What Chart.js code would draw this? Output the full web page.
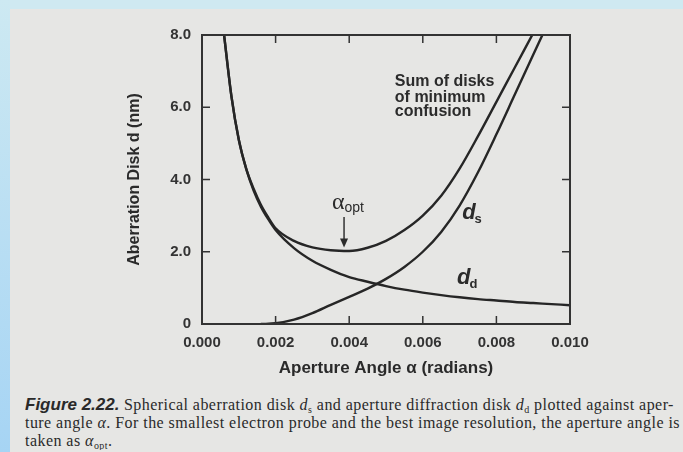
<!DOCTYPE html>
<html>
<head>
<meta charset="utf-8">
<script src="https://cdn.jsdelivr.net/npm/chart.js@4.4.0/dist/chart.umd.min.js"></script>
<style>
  body { margin: 0; width: 683px; height: 452px; overflow: hidden; background: #e6e6e4; position: relative; }
  #topStrip { position: absolute; left: 0; top: 0; width: 683px; height: 9px; background: #cfe9f1; }
  #leftStrip { position: absolute; left: 0; top: 0; width: 10px; height: 452px; background: linear-gradient(#cde9f2, #a6d4f4); }
  #chart { position: absolute; left: 0; top: 0; }
  #caption { position: absolute; left: 25px; top: 396px; width: 658px; overflow: hidden; white-space: nowrap;
             font-family: "Liberation Serif", serif; font-size: 16px; letter-spacing: 0.45px; line-height: 18px; color: #2a2a2a; }
  #caption div { height: 18px; }
  #caption b { font-family: "Liberation Sans", Arial, sans-serif; font-style: italic; font-size: 17px; letter-spacing: 0; }
  #caption sub { font-size: 10px; line-height: 0; vertical-align: -3px; }
</style>
</head>
<body>
<div id="topStrip"></div>
<div id="leftStrip"></div>
<canvas id="chart" width="683" height="390"></canvas>
<div id="caption">
  <div><b>Figure 2.22.</b> Spherical aberration disk <i>d</i><sub>s</sub> and aperture diffraction disk <i>d</i><sub>d</sub> plotted against aper-</div>
  <div>ture angle <i>α</i>. For the smallest electron probe and the best image resolution, the aperture angle is</div>
  <div>taken as <i>α</i><sub>opt</sub>.</div>
</div>
<script>
// values
var alphaD = [0.0006, 0.0008, 0.001, 0.0012, 0.0014, 0.0016, 0.0018, 0.002, 0.0025, 0.003, 0.0035, 0.004,
              0.0045, 0.005, 0.0055, 0.006, 0.0065, 0.007, 0.0075, 0.008, 0.0085, 0.009, 0.0095, 0.010];
var diffD  = [8.0, 6.3, 5.1, 4.3, 3.7, 3.25, 2.9, 2.6, 2.1, 1.75, 1.5, 1.3,
              1.17, 1.05, 0.95, 0.87, 0.8, 0.74, 0.69, 0.65, 0.61, 0.58, 0.55, 0.52];

var alphaS = [0.0016, 0.002, 0.0025, 0.003, 0.0035, 0.004, 0.0045, 0.005, 0.0055, 0.006,
              0.0065, 0.007, 0.0075, 0.008, 0.0085, 0.009, 0.0095];
var spherD = [0, 0.02, 0.12, 0.3, 0.53, 0.75, 0.98, 1.25, 1.58, 2.0,
              2.55, 3.28, 4.2, 5.25, 6.35, 7.45, 8.55];

var alphaSum = [0.0006, 0.0008, 0.001, 0.0012, 0.0014, 0.0016, 0.0018, 0.002, 0.0025, 0.003, 0.0035,
                0.004, 0.0045, 0.005, 0.0055, 0.006, 0.0065, 0.007, 0.0075, 0.008, 0.0085, 0.009];
var sumD     = [8.0, 6.3, 5.1, 4.3, 3.75, 3.3, 2.95, 2.65, 2.3, 2.12, 2.04,
                2.02, 2.11, 2.3, 2.6, 3.0, 3.55, 4.3, 5.2, 6.15, 7.1, 8.05];

var xTicks = [0.002, 0.004, 0.006, 0.008];
var yTicks = [2, 4, 6];

function pairs(xs, ys) {
  return xs.map(function(x, i) { return {x: x, y: ys[i]}; });
}

var ink = '#262626';

function curve(data) {
  return {
    data: data,
    borderColor: ink,
    borderWidth: 2.4,
    pointRadius: 0,
    fill: false,
    cubicInterpolationMode: 'monotone'
  };
}

// frame, inward ticks and the labels on the plot
var extras = {
  id: 'extras',
  afterDraw: function(chart) {
    var ctx = chart.ctx, a = chart.chartArea;
    var xs = chart.scales.x, ys = chart.scales.y;
    ctx.save();
    ctx.strokeStyle = '#333';
    ctx.lineWidth = 2;
    ctx.strokeRect(a.left, a.top, a.right - a.left, a.bottom - a.top);
    ctx.lineWidth = 1.5;
    ctx.beginPath();
    xTicks.forEach(function(v) {
      var px = xs.getPixelForValue(v);
      ctx.moveTo(px, a.bottom); ctx.lineTo(px, a.bottom - 8);
      ctx.moveTo(px, a.top); ctx.lineTo(px, a.top + 8);
    });
    yTicks.forEach(function(v) {
      var py = ys.getPixelForValue(v);
      ctx.moveTo(a.left, py); ctx.lineTo(a.left + 8, py);
      ctx.moveTo(a.right, py); ctx.lineTo(a.right - 8, py);
    });
    ctx.stroke();

    ctx.fillStyle = '#2b2b2b';
    ctx.textBaseline = 'middle';
    ctx.textAlign = 'left';
    ctx.font = 'bold 16px "Liberation Sans", Arial, sans-serif';
    var sx = xs.getPixelForValue(0.00524);
    ctx.fillText('Sum of disks', sx, ys.getPixelForValue(6.70));
    ctx.fillText('of minimum', sx, ys.getPixelForValue(6.28));
    ctx.fillText('confusion', sx, ys.getPixelForValue(5.87));

    function dLabel(ax, val, sub) {
      var px = xs.getPixelForValue(ax), py = ys.getPixelForValue(val);
      ctx.font = 'italic bold 22px "Liberation Sans", Arial, sans-serif';
      ctx.fillText('d', px, py);
      var w = ctx.measureText('d').width;
      ctx.font = 'bold 13px "Liberation Sans", Arial, sans-serif';
      ctx.fillText(sub, px + w - 1, py + 6);
    }
    dLabel(0.00707, 3.07, 's');
    dLabel(0.00693, 1.27, 'd');

    var ax = xs.getPixelForValue(0.00353), ay = ys.getPixelForValue(3.35);
    ctx.font = '24px "Liberation Serif", serif';
    ctx.fillText('α', ax, ay);
    var aw = ctx.measureText('α').width;
    ctx.font = '14px "Liberation Sans", Arial, sans-serif';
    ctx.fillText('opt', ax + aw, ay + 5);

    var arX = xs.getPixelForValue(0.00386);
    var arTop = ys.getPixelForValue(2.96), arTip = ys.getPixelForValue(2.12);
    ctx.lineWidth = 1.5;
    ctx.beginPath();
    ctx.moveTo(arX, arTop); ctx.lineTo(arX, arTip - 6);
    ctx.stroke();
    ctx.beginPath();
    ctx.moveTo(arX - 4, arTip - 9); ctx.lineTo(arX + 4, arTip - 9); ctx.lineTo(arX, arTip);
    ctx.closePath();
    ctx.fill();
    ctx.restore();
  }
};

var tickFont = { family: '"Liberation Sans", Arial, sans-serif', size: 15, weight: 'bold' };

new Chart(document.getElementById('chart'), {
  type: 'line',
  data: {
    datasets: [curve(pairs(alphaD, diffD)), curve(pairs(alphaS, spherD)), curve(pairs(alphaSum, sumD))]
  },
  options: {
    responsive: false,
    animation: false,
    layout: { padding: { left: 124, top: 35, right: 113, bottom: 0 } },
    plugins: { legend: { display: false }, tooltip: { enabled: false } },
    scales: {
      x: {
        type: 'linear', min: 0, max: 0.010,
        grid: { display: false, drawTicks: false, tickLength: 0 },
        border: { display: false },
        ticks: { stepSize: 0.002, padding: 10, color: '#333', font: tickFont, maxRotation: 0,
                 callback: function(v) { return v.toFixed(3); } },
        title: { display: true, text: 'Aperture Angle α (radians)', color: '#2a2a2a',
                 font: { family: '"Liberation Sans", Arial, sans-serif', size: 17, weight: 'bold' },
                 padding: { top: 0, bottom: 11 } },
        afterFit: function(s) { s.height = 66; }
      },
      y: {
        min: 0, max: 8,
        grid: { display: false, drawTicks: false, tickLength: 0 },
        border: { display: false },
        ticks: { stepSize: 2, padding: 11, color: '#333', font: tickFont,
                 callback: function(v) { return v === 0 ? '0' : v.toFixed(1); } },
        title: { display: true, text: 'Aberration Disk d (nm)', color: '#2a2a2a',
                 font: { family: '"Liberation Sans", Arial, sans-serif', size: 16, weight: 'bold' },
                 padding: { top: 1, bottom: 0 } },
        afterFit: function(s) { s.width = 78; }
      }
    }
  },
  plugins: [extras]
});
</script>
</body>
</html>
